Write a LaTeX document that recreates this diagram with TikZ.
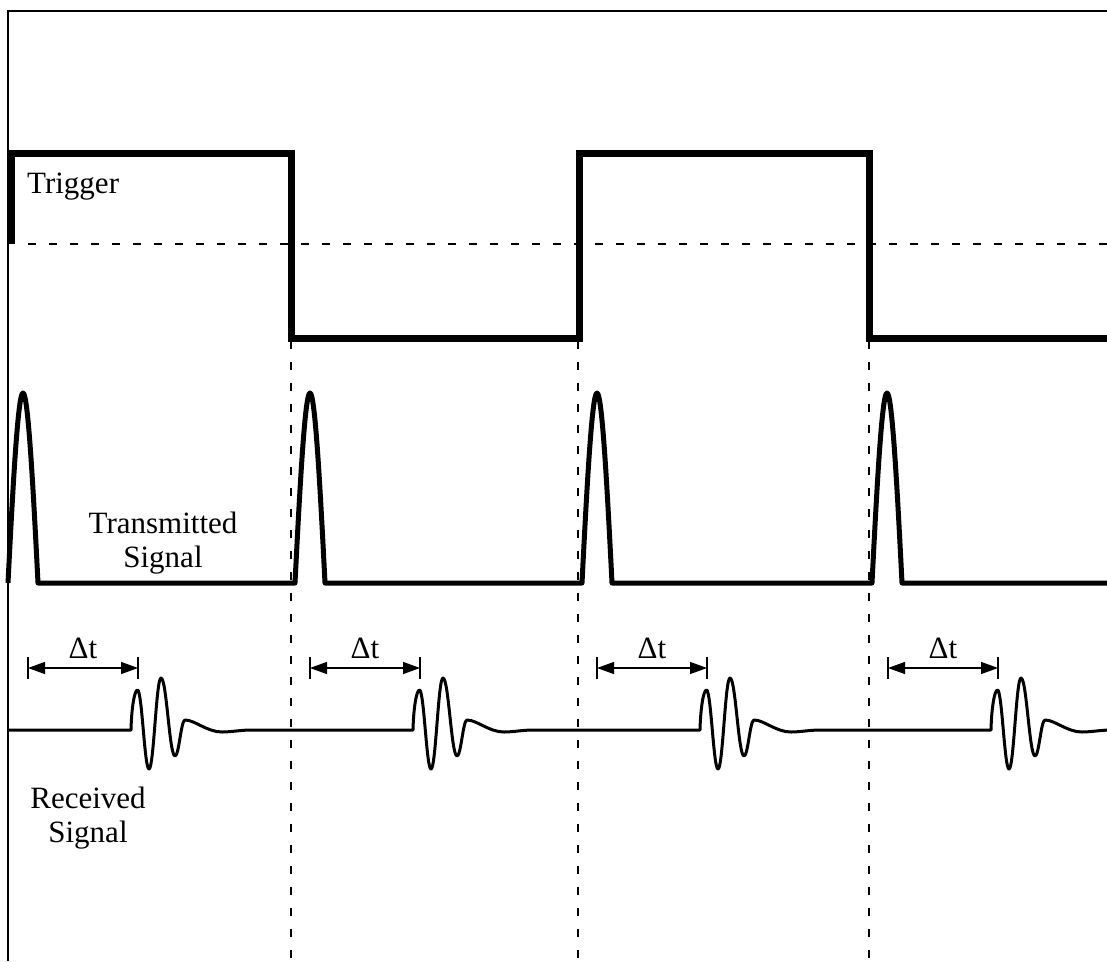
\documentclass[tikz,border=0pt]{standalone}
\usepackage{fontspec}
\setmainfont{Liberation Serif}
\usetikzlibrary{arrows.meta}
\begin{document}
\begin{tikzpicture}[x=1pt,y=-1pt,
  frameline/.style={line width=2.5pt},
  trig/.style={line width=7pt, line join=miter},
  txsig/.style={line width=5pt, line join=round},
  rxsig/.style={line width=3pt, line join=round},
  guide/.style={line width=1.3pt, dash pattern=on 7.5pt off 13.5pt},
  dimarrow/.style={line width=1.3pt, {Triangle[length=17pt,width=12pt]}-{Triangle[length=17pt,width=12pt]}},
  tickline/.style={line width=1.3pt},
  lbl/.style={font=\fontsize{31}{34}\selectfont, inner sep=0pt, align=center},
  dtl/.style={inner sep=0pt, font=\fontsize{31}{34}\selectfont}
]
\useasboundingbox (0,0) rectangle (1107,961);
\clip (0,0) rectangle (1107,961);

% frame
\draw[frameline] (1107,11) -- (8,11) -- (8,961);

% dashed guides
\coordinate (hl) at (28,244);
\coordinate (hr) at (1107,244);
\draw[guide] (hl) -- (hr);
\foreach \g [count=\i] in {291,578,869} {
  \coordinate (vt\i) at (\g,341);
  \coordinate (vb\i) at (\g,961);
  \draw[guide] (vt\i) -- (vb\i);
}

% trigger
\draw[trig] (11,244) -- (11,153) -- (291,153) -- (291,338) -- (579,338) -- (579,153) -- (869,153) -- (869,338) -- (1107,338);

% transmitted signal
\draw[txsig] (8,583) \foreach \s in {8,295,582,872} {
  -- (\s,583) .. controls (\s+5,484) and (\s+10,393) .. (\s+15,393)
  .. controls (\s+20,393) and (\s+25,484) .. (\s+30,583) } -- (1107,583);

% received signal
\draw[rxsig] (8,730) \foreach \s in {131,413,700,991} {
  -- (\s,730)
  .. controls (\s+0.5,708) and (\s+3.5,690) .. (\s+6.5,690)
  .. controls (\s+11,690) and (\s+13.5,769) .. (\s+18,769)
  .. controls (\s+22.8,769) and (\s+25.2,678) .. (\s+30,678)
  .. controls (\s+35.6,678) and (\s+38.4,756) .. (\s+44,756)
  .. controls (\s+48,756) and (\s+50,720) .. (\s+54,720)
  .. controls (\s+64,720) and (\s+76,732) .. (\s+91,732)
  .. controls (\s+100,732) and (\s+110,730) .. (\s+120,730) } -- (1107,730);

% delta t markers
\foreach \g [count=\i] in {9,291,578,869} {
  \coordinate (a\i) at (\g+19,668);
  \coordinate (b\i) at (\g+129,668);
  \draw[tickline] ([yshift=-11pt]a\i) -- ([yshift=11pt]a\i);
  \draw[tickline] ([yshift=-11pt]b\i) -- ([yshift=11pt]b\i);
  \draw[dimarrow] (a\i) -- (b\i);
  \node[dtl, anchor=base] (dt\i) at (\g+74,658) {Δt};
}

% labels
\node[lbl, anchor=base west] (trigger) at (27,193) {Trigger};
\node[lbl] (tx) at (163,543) {Transmitted\\Signal};
\node[lbl] (rx) at (88,818) {Received\\Signal};
\end{tikzpicture}
\end{document}
